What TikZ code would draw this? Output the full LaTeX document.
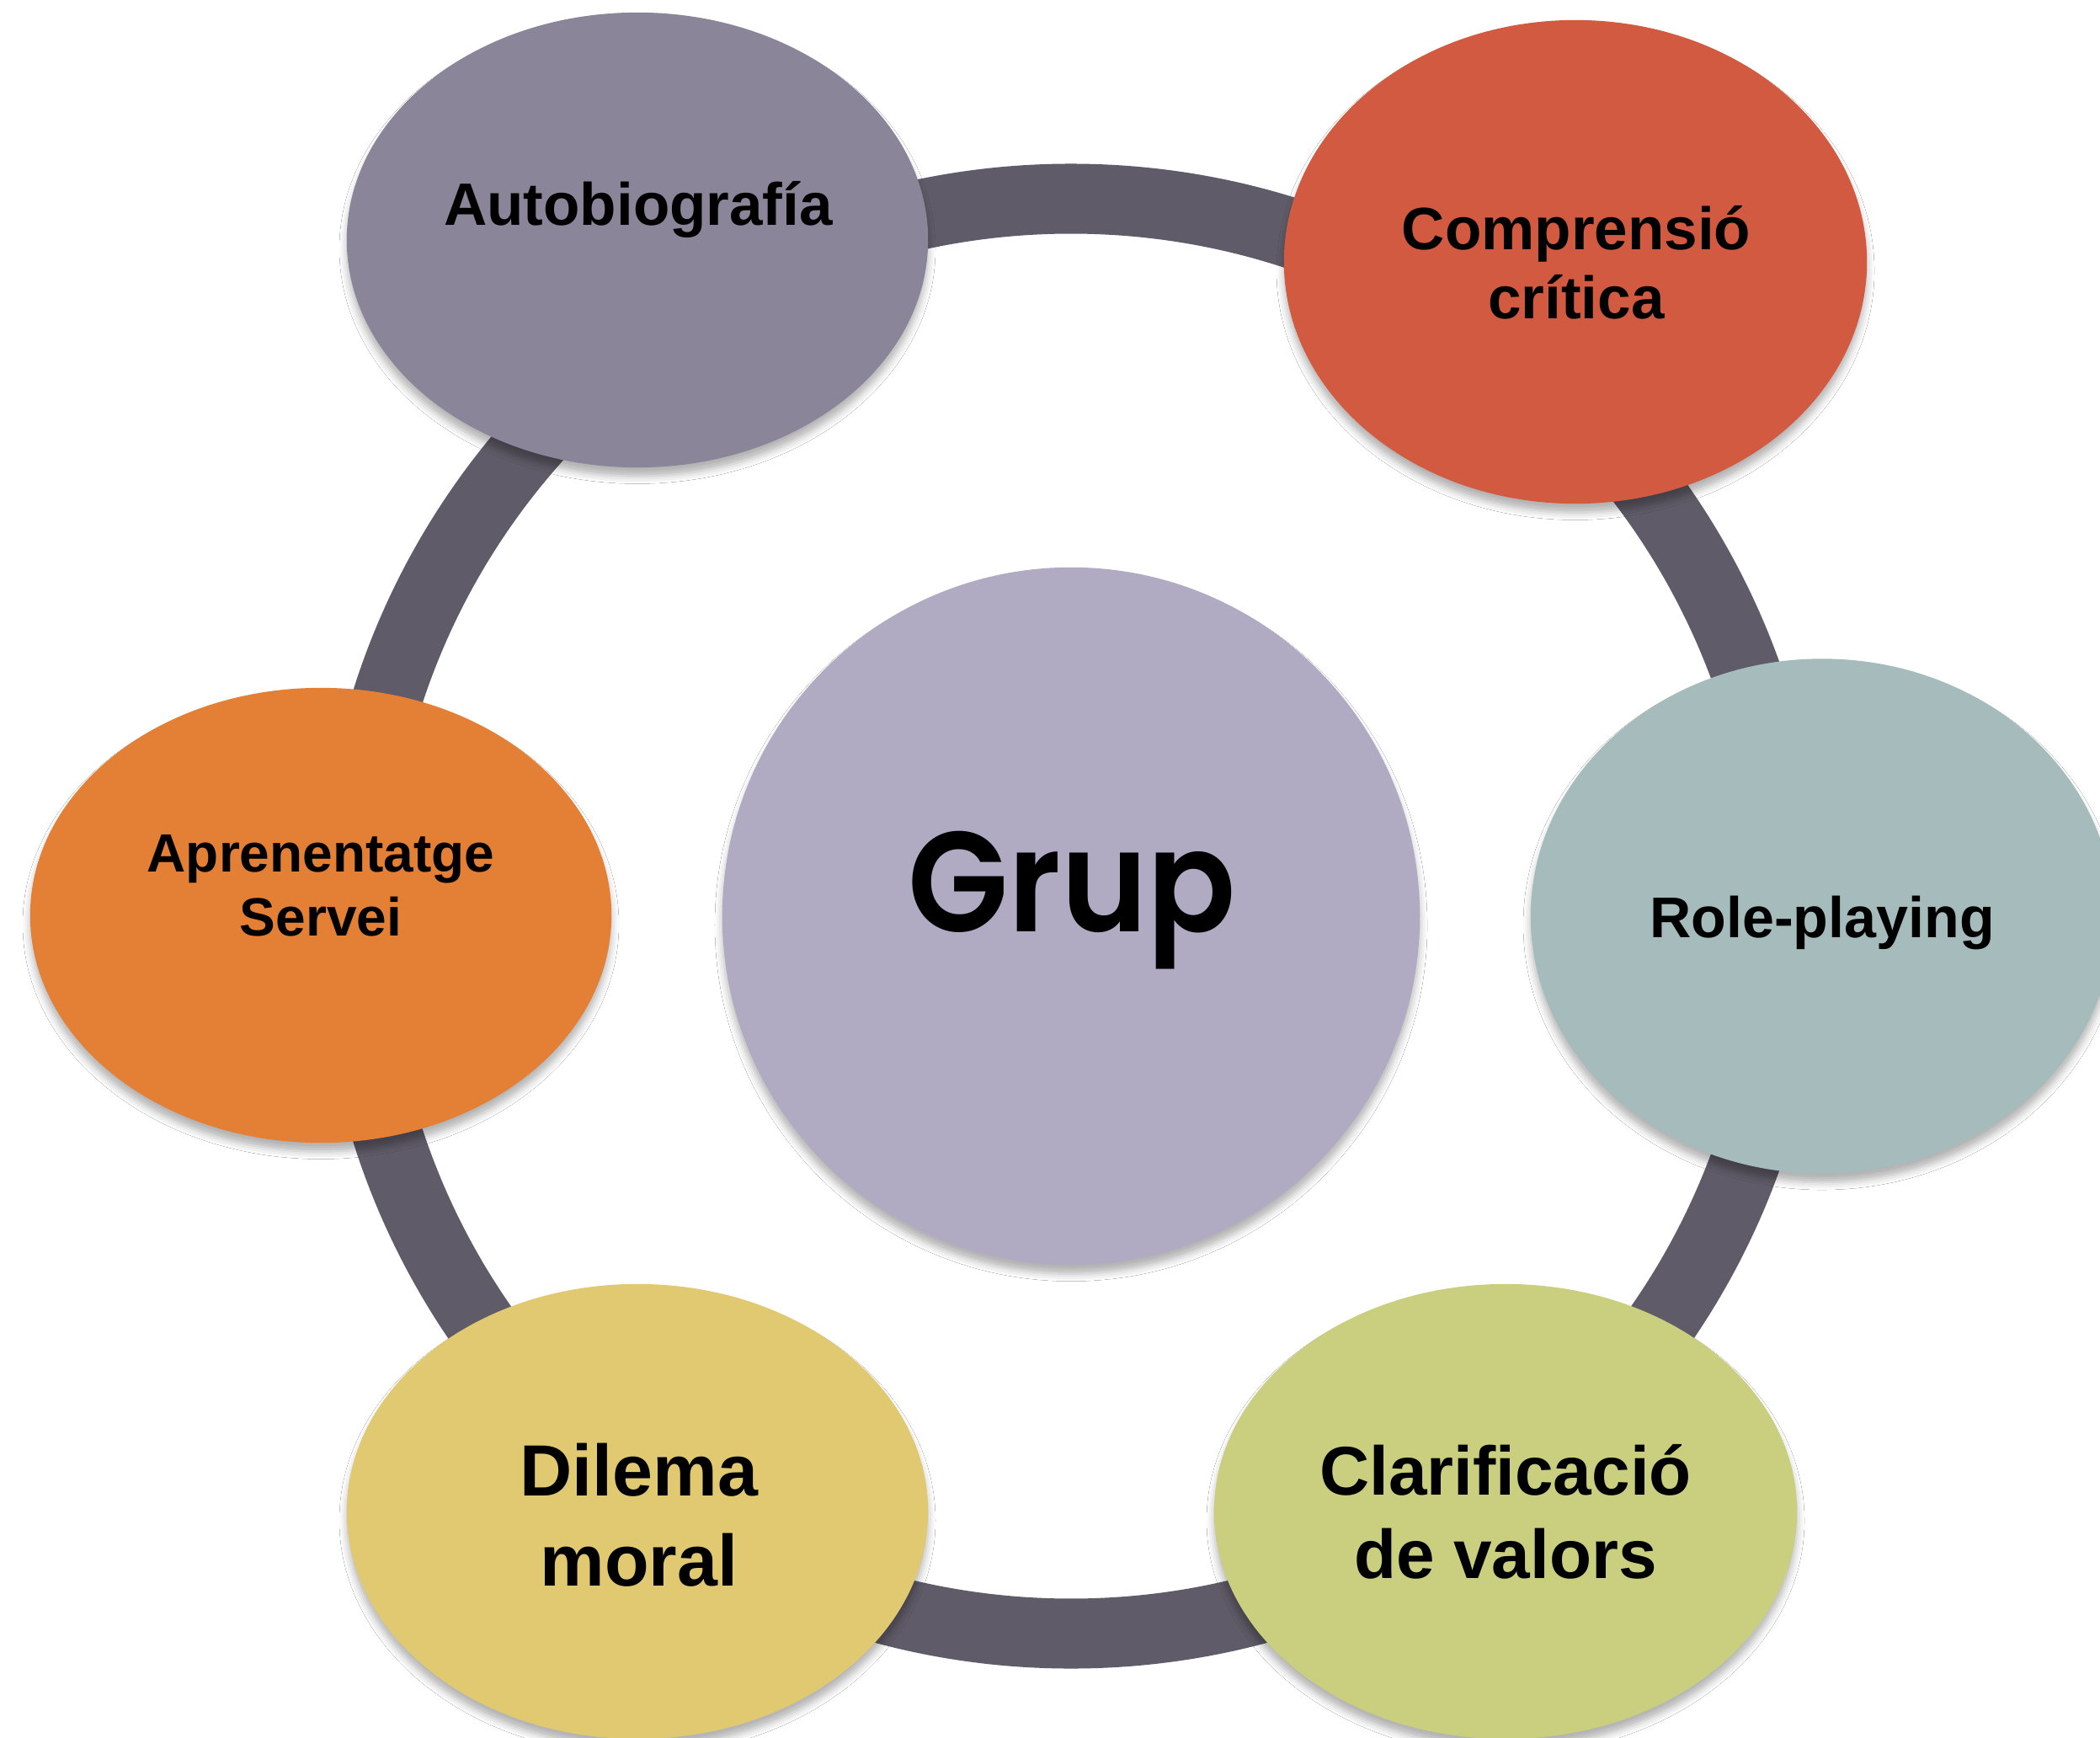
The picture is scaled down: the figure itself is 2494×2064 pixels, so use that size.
\documentclass[tikz,border=0pt]{standalone}
\usepackage{fontspec}
\setmainfont{Liberation Sans}
\newfontfamily\grupfont{Poppins}[UprightFont={* SemiBold}, BoldFont={* SemiBold}]
\usetikzlibrary{shapes.geometric,shadows.blur}
\definecolor{ringc}{HTML}{5F5B68}
\definecolor{cgrup}{HTML}{B0ABC3}
\definecolor{cauto}{HTML}{8A8598}
\definecolor{ccomp}{HTML}{D25A40}
\definecolor{crole}{HTML}{A6BBBB}
\definecolor{cclar}{HTML}{CACE7F}
\definecolor{cdil}{HTML}{E1C972}
\definecolor{capr}{HTML}{E47F36}
\tikzset{
  bub/.style={ellipse, inner sep=0pt, draw=none,
    blur shadow={shadow xshift=0pt, shadow yshift=-3pt, shadow blur radius=2.5pt, shadow opacity=30}},
  lab/.style={anchor=base, align=center, inner sep=0pt, text=black},
  fa/.style={font=\bfseries\fontsize{20.2pt}{23.6pt}\selectfont},
}
\begin{document}
\begin{tikzpicture}[x=0.01cm,y=-0.01cm]
\useasboundingbox (0,0) rectangle (2494,2064);
\clip (0,0) rectangle (2494,2064);
\fill[white] (0,0) rectangle (2494,2064);
\coordinate (c) at (1272,1088);
% ring
\draw[ringc, line width=0.83cm] (c) circle[radius=852];
% centre
\node[bub, circle, fill=cgrup, minimum size=8.28cm] (grup) at (c) {};
\node[lab, font=\grupfont\fontsize{48pt}{58pt}\selectfont] (grupT) at (1273,1106) {\scalebox{0.92}[1]{Grup}};
% satellites (multi-line labels: base = last line)
\node[bub, fill=cauto, minimum width=6.9cm, minimum height=5.4cm] (autob) at (757,285) {};
\node[lab, fa] (autobT) at (758,268) {Autobiografía};
\node[bub, fill=ccomp, minimum width=6.92cm, minimum height=5.74cm] (compr) at (1871,311) {};
\node[lab, fa] (comprT) at (1872,379) {Comprensió\\crítica};
\node[bub, fill=crole, minimum width=6.92cm, minimum height=6.11cm] (role) at (2164,1088) {};
\node[lab, font=\bfseries\fontsize{19.4pt}{23pt}\selectfont] (roleT) at (2164,1113) {Role-playing};
\node[bub, fill=cclar, minimum width=6.92cm, minimum height=5.4cm] (clarif) at (1788,1795) {};
\node[lab, font=\bfseries\fontsize{23.3pt}{27.9pt}\selectfont] (clarifT) at (1788,1874) {Clarificació\\de valors};
\node[bub, fill=cdil, minimum width=6.9cm, minimum height=5.4cm] (dilema) at (757,1795) {};
\node[lab, font=\bfseries\fontsize{24.5pt}{30.4pt}\selectfont] (dilemaT) at (759,1883) {Dilema\\moral};
\node[bub, fill=capr, minimum width=6.9cm, minimum height=5.4cm] (apren) at (381,1087) {};
\node[lab, font=\bfseries\fontsize{18.2pt}{21.6pt}\selectfont] (aprenT) at (381,1111) {Aprenentatge\\Servei};
\end{tikzpicture}
\end{document}
